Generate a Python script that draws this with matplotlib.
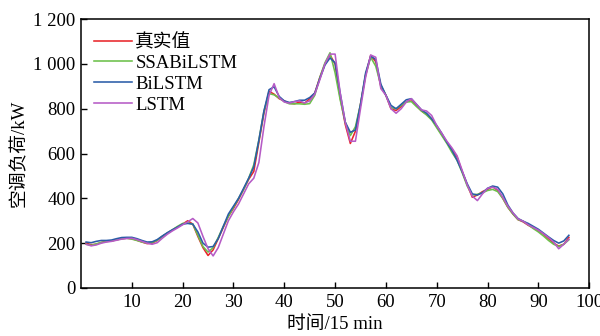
import matplotlib
matplotlib.use("Agg")
import matplotlib.pyplot as plt
from matplotlib.ticker import FuncFormatter

plt.rcParams['font.family'] = ['Liberation Serif', 'Noto Sans CJK SC']
plt.rcParams['font.size'] = 13

# 时间步 1..96 (15 min)
t = list(range(1, 97))

true_load = [200, 193, 195, 203, 208, 210, 215, 220, 222, 220,
             213, 205, 198, 200, 212, 230, 245, 258, 272, 285,
             300, 285, 230, 180, 145, 170, 220, 270, 320, 355,
             395, 440, 485, 520, 650, 780, 878, 865, 845, 835,
             825, 822, 830, 825, 845, 870, 940, 1000, 1040, 1000,
             850, 730, 645, 700, 820, 950, 1038, 1010, 900, 860,
             800, 792, 810, 830, 842, 815, 790, 775, 755, 720,
             685, 650, 620, 585, 520, 460, 405, 415, 430, 440,
             452, 435, 400, 360, 330, 305, 295, 280, 268, 255,
             240, 220, 200, 187, 195, 226]

ssa_bilstm = [195, 190, 197, 203, 207, 210, 215, 220, 222, 218,
              212, 205, 200, 203, 213, 230, 245, 260, 275, 288,
              290, 285, 235, 185, 160, 180, 225, 275, 320, 360,
              400, 440, 490, 550, 660, 790, 868, 862, 848, 832,
              822, 822, 822, 820, 823, 860, 940, 1005, 1050, 960,
              840, 740, 680, 720, 820, 950, 1030, 990, 905, 860,
              805, 800, 815, 830, 832, 810, 790, 772, 750, 715,
              680, 645, 605, 570, 515, 455, 415, 418, 425, 435,
              440, 430, 400, 360, 330, 305, 298, 282, 265, 250,
              232, 212, 195, 185, 195, 215]

bilstm = [205, 202, 208, 212, 212, 214, 220, 225, 226, 226,
          220, 212, 205, 206, 216, 232, 247, 260, 272, 285,
          288, 285, 250, 200, 182, 185, 220, 275, 330, 365,
          400, 445, 490, 540, 660, 790, 885, 898, 855, 835,
          828, 832, 838, 838, 850, 870, 935, 995, 1027, 1005,
          870, 740, 695, 705, 820, 960, 1035, 1020, 910, 860,
          815, 800, 820, 840, 845, 820, 795, 780, 755, 725,
          690, 650, 615, 570, 520, 465, 420, 415, 425, 445,
          455, 450, 420, 370, 335, 310, 298, 288, 275, 262,
          245, 228, 212, 200, 210, 235]

lstm = [195, 188, 192, 200, 205, 208, 213, 218, 221, 222,
        216, 208, 200, 195, 202, 222, 240, 255, 268, 282,
        295, 310, 290, 230, 175, 143, 180, 240, 300, 340,
        375, 420, 465, 490, 560, 720, 860, 912, 850, 830,
        825, 832, 835, 826, 835, 865, 930, 1000, 1044, 1044,
        870, 740, 655, 655, 800, 940, 1040, 1030, 890, 860,
        800, 780, 800, 830, 845, 820, 795, 790, 770, 725,
        690, 655, 625, 590, 525, 460, 410, 390, 420, 445,
        450, 440, 405, 365, 335, 308, 298, 282, 270, 258,
        242, 225, 205, 175, 195, 218]

labels = ["真实值", "SSABiLSTM", "BiLSTM", "LSTM"]
colors = ["#e8262b", "#6cc04a", "#2b5ca8", "#b65bc6"]

fig = plt.figure(figsize=(6, 3.36), dpi=100)
ax = fig.add_axes([0.135, 0.143, 0.847, 0.8])

for y, lab, c in zip([true_load, ssa_bilstm, bilstm, lstm], labels, colors):
    ax.plot(t, y, color=c, lw=1.15, label=lab)

ax.set_xlim(0, 100)
ax.set_ylim(0, 1200)
ax.set_xticks(range(10, 101, 10))
ax.set_yticks(range(0, 1201, 200))
ax.yaxis.set_major_formatter(FuncFormatter(lambda v, p: f"{int(v):,}".replace(",", " ")))
ax.tick_params(direction="in", length=4.5, width=1, labelsize=13.5, pad=4)
for s in ax.spines.values():
    s.set_linewidth(1.1)

ax.set_xlabel("时间/15 min", fontsize=13.5, labelpad=4)
ax.set_ylabel("空调负荷/kW", fontsize=13.5, labelpad=4)

ax.legend(loc="upper left", frameon=False, fontsize=13.5, handlelength=2.0,
          labelspacing=0.2, borderaxespad=0.3, handletextpad=0.2,
          bbox_to_anchor=(0.0, 0.995))

fig.savefig("out.png", dpi=100)
